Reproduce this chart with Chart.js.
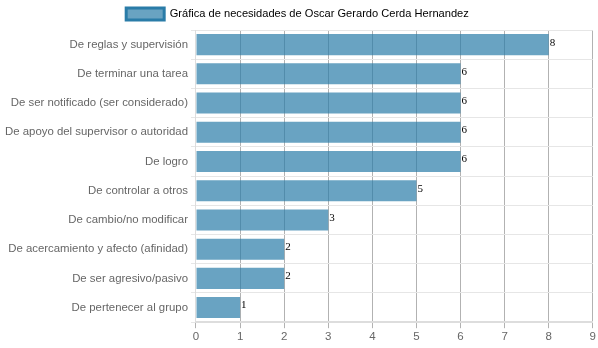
<!DOCTYPE html>
<html>
<head>
<meta charset="utf-8">
<script src="https://cdn.jsdelivr.net/npm/chart.js@4"></script>
<style>
  body { margin: 0; background: #fff; }
  #wrap { width: 598px; height: 348px; }
</style>
</head>
<body>
<div id="wrap"><canvas id="needsChart"></canvas></div>
<script>
// data
var categories = [
    "De reglas y supervisión",
    "De terminar una tarea",
    "De ser notificado (ser considerado)",
    "De apoyo del supervisor o autoridad",
    "De logro",
    "De controlar a otros",
    "De cambio/no modificar",
    "De acercamiento y afecto (afinidad)",
    "De ser agresivo/pasivo",
    "De pertenecer al grupo"
];
var scores = [8, 6, 6, 6, 6, 5, 3, 2, 2, 1];
var xTicks = [0, 1, 2, 3, 4, 5, 6, 7, 8, 9];
var seriesLabel = "Gráfica de necesidades de Oscar Gerardo Cerda Hernandez";

Chart.defaults.font.family = "Arial, 'Liberation Sans', sans-serif";
Chart.defaults.font.size = 11.4;
Chart.defaults.color = "#666";

// numbers at the end of each bar
var valueLabels = {
    id: 'valueLabels',
    afterDatasetsDraw: function (chart) {
        var ctx = chart.ctx;
        ctx.save();
        ctx.font = "11px 'Liberation Serif', 'Times New Roman', serif";
        ctx.fillStyle = "#000";
        ctx.textAlign = "left";
        ctx.textBaseline = "middle";
        chart.getDatasetMeta(0).data.forEach(function (bar, i) {
            ctx.fillText(scores[i], bar.x + 1, bar.y - 2);
        });
        ctx.restore();
    }
};

var ctx = document.getElementById('needsChart').getContext('2d');
var chart = new Chart(ctx, {
    type: 'bar',
    data: {
        labels: categories,
        datasets: [{
            label: seriesLabel,
            data: scores,
            backgroundColor: 'rgba(42, 124, 168, 0.7)',
            borderColor: 'rgb(42, 124, 168)',
            borderWidth: 0
        }]
    },
    options: {
        indexAxis: 'y',
        responsive: true,
        maintainAspectRatio: false,
        animation: false,
        layout: { padding: { left: 2, right: 5, top: 0, bottom: 2 } },
        plugins: {
            legend: {
                labels: {
                    boxWidth: 38,
                    boxHeight: 12,
                    color: '#666',
                    padding: 8,
                    font: { size: 11.1 },
                    generateLabels: function (chart) {
                        return [{
                            text: seriesLabel,
                            fillStyle: 'rgba(42, 124, 168, 0.7)',
                            strokeStyle: 'rgb(42, 124, 168)',
                            lineWidth: 3,
                            datasetIndex: 0
                        }];
                    }
                }
            },
            tooltip: { enabled: false }
        },
        scales: {
            x: {
                min: 0,
                max: xTicks[xTicks.length - 1],
                afterBuildTicks: function (axis) {
                    axis.ticks = xTicks.map(function (v) { return { value: v }; });
                },
                grid: { color: 'rgba(0,0,0,0.3)', tickLength: 6 },
                border: { color: '#ddd', width: 2 },
                ticks: { padding: 2, font: { size: 11.5 } }
            },
            y: {
                grid: { color: '#e6e6e6', tickLength: 5, offset: true },
                border: { color: '#ddd', width: 1 },
                ticks: { padding: 3 }
            }
        }
    },
    plugins: [valueLabels]
});
</script>
</body>
</html>
